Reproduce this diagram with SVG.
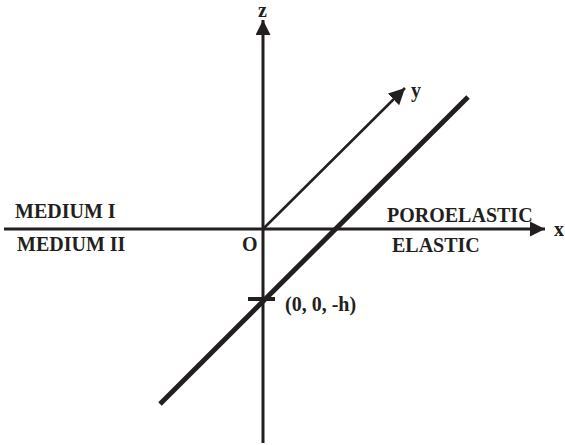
<svg xmlns="http://www.w3.org/2000/svg" width="565" height="445" viewBox="0 0 565 445">
<style>
text{font-family:"Liberation Serif","Times New Roman",serif;font-weight:bold;fill:#231f20;font-size:20px}
.ax{stroke:#231f20;fill:none}
</style>
<defs>
<marker id="ah" viewBox="0 0 10 10" refX="10" refY="5" markerWidth="5" markerHeight="5" markerUnits="strokeWidth" orient="auto"><path d="M0,0 L10,5 L0,10 z" fill="#231f20"/></marker>
<marker id="ah2" viewBox="0 0 10 10" refX="10" refY="5" markerWidth="6.5" markerHeight="6.5" markerUnits="strokeWidth" orient="auto"><path d="M0,0 L10,5 L0,10 z" fill="#231f20"/></marker>
</defs>
<g id="connectors">
<line class="ax" x1="263" y1="443" x2="263" y2="20" stroke-width="3" marker-end="url(#ah)"/>
<line class="ax" x1="4" y1="229" x2="545" y2="229" stroke-width="3" marker-end="url(#ah)"/>
<line class="ax" x1="263" y1="229" x2="405" y2="88" stroke-width="2.5" marker-end="url(#ah2)"/>
<line class="ax" x1="160" y1="404" x2="468" y2="97" stroke-width="5"/>
<line class="ax" x1="248" y1="299" x2="275" y2="299" stroke-width="4"/>
</g>
<g id="labels">
<text x="258" y="17" font-size="20">z</text>
<text x="411" y="97" font-size="21">y</text>
<text x="554" y="236" font-size="21">x</text>
<text x="15" y="218">MEDIUM I</text>
<text x="17" y="251">MEDIUM II</text>
<text x="242" y="251">O</text>
<text x="387" y="222">POROELASTIC</text>
<text x="392" y="252">ELASTIC</text>
<text x="285" y="311" font-size="20.5">(0, 0, -h)</text>
</g>
</svg>
